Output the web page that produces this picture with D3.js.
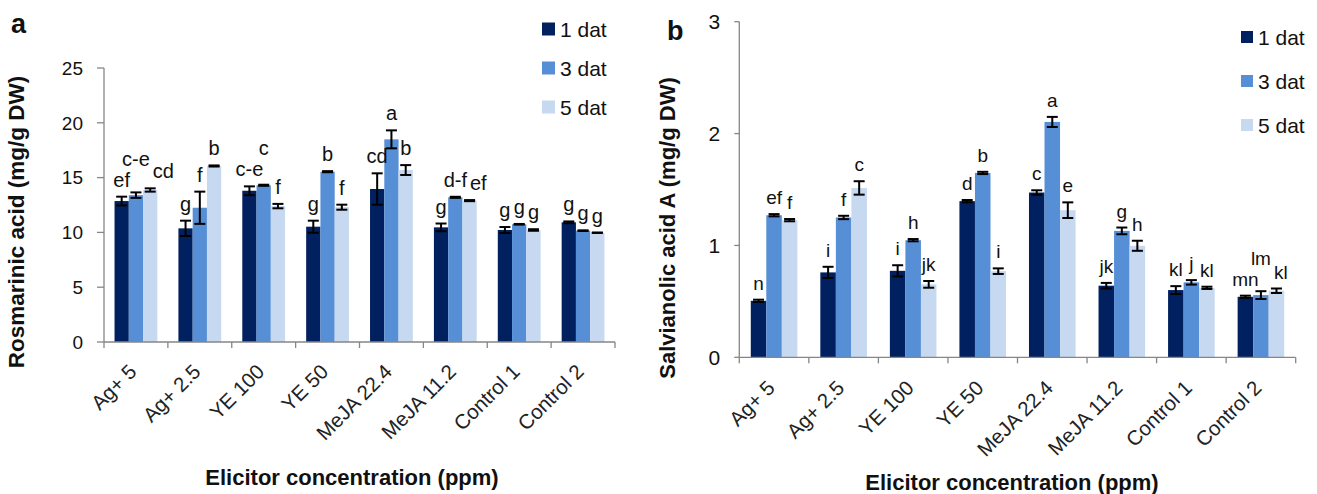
<!DOCTYPE html>
<html>
<head>
<meta charset="utf-8">
<script src="https://cdn.jsdelivr.net/npm/d3@7"></script>
<style>
  body { margin: 0; background: #fff; }
  text { font-family: "Liberation Sans", Arial, sans-serif; fill: #111; }
</style>
</head>
<body>
<div id="chart"></div>
<script>
var categories = ["Ag+ 5", "Ag+ 2.5", "YE 100", "YE 50", "MeJA 22.4", "MeJA 11.2", "Control 1", "Control 2"];
var series = ["1 dat", "3 dat", "5 dat"];
var colors = ["#00205f", "#568fd6", "#c6d9f0"];

// panel a: rosmarinic acid
var rosDay1 = [12.86, 10.37, 13.8, 10.52, 13.96, 10.46, 10.22, 10.92];
var rosDay3 = [13.4, 12.25, 14.3, 15.54, 18.49, 13.2, 10.74, 10.16];
var rosDay5 = [13.87, 16.06, 12.4, 12.3, 15.69, 12.9, 10.22, 9.97];
var rosErr1 = [0.4, 0.7, 0.4, 0.55, 1.43, 0.35, 0.27, 0.08];
var rosErr3 = [0.25, 1.47, 0.05, 0.05, 0.82, 0.05, 0.03, 0.03];
var rosErr5 = [0.15, 0.05, 0.2, 0.23, 0.45, 0.05, 0.07, 0.02];
var rosLet1 = ["ef", "g", "c-e", "g", "cd", "g", "g", "g"];
var rosLet3 = ["c-e", "f", "c", "b", "a", "d-f", "g", "g"];
var rosLet5 = ["cd", "b", "f", "f", "b", "ef", "g", "g"];
var rosTicks = [0, 5, 10, 15, 20, 25];

// panel b: salvianolic acid A
var salDay1 = [0.505, 0.759, 0.773, 1.396, 1.473, 0.64, 0.601, 0.541];
var salDay3 = [1.27, 1.25, 1.047, 1.648, 2.104, 1.13, 0.67, 0.556];
var salDay5 = [1.226, 1.514, 0.652, 0.77, 1.315, 0.997, 0.621, 0.595];
var salErr1 = [0.01, 0.05, 0.05, 0.01, 0.02, 0.025, 0.035, 0.01];
var salErr3 = [0.01, 0.015, 0.01, 0.01, 0.045, 0.03, 0.02, 0.035];
var salErr5 = [0.01, 0.06, 0.03, 0.025, 0.07, 0.045, 0.01, 0.02];
var salLet1 = ["n", "i", "i", "d", "c", "jk", "kl", "mn"];
var salLet3 = ["ef", "f", "h", "b", "a", "g", "j", "lm"];
var salLet5 = ["f", "c", "jk", "i", "e", "h", "kl", "kl"];
var salTicks = [0, 1, 2, 3];

var svg = d3.select("#chart").append("svg")
    .attr("width", 1317)
    .attr("height", 494);

function drawPanel(cfg) {
    var g = svg.append("g");
    var x = d3.scaleBand().domain(categories)
        .range([cfg.x0, cfg.x1]).paddingInner(0.33).paddingOuter(0.165);
    var xs = d3.scaleBand().domain(series).range([0, x.bandwidth()]);
    var y = d3.scaleLinear().domain([0, cfg.max]).range([cfg.y0, cfg.y1]);
    var step = x.step();

    var rows = categories.map(function (c, i) {
        return series.map(function (s, j) {
            return { cat: c, ser: s, j: j, v: cfg.values[j][i], e: cfg.errors[j][i], l: cfg.letters[j][i] };
        });
    });

    var groups = g.selectAll(".grp").data(rows).enter().append("g")
        .attr("transform", function (d, i) { return "translate(" + x(categories[i]) + ",0)"; });

    groups.selectAll("rect").data(function (d) { return d; }).enter().append("rect")
        .attr("x", function (d) { return xs(d.ser); })
        .attr("width", xs.bandwidth())
        .attr("y", function (d) { return y(d.v); })
        .attr("height", function (d) { return y(0) - y(d.v); })
        .attr("fill", function (d) { return colors[d.j]; });

    // error bars
    var eb = groups.selectAll(".err").data(function (d) { return d; }).enter().append("g")
        .attr("stroke", "#000").attr("stroke-width", 2);
    eb.append("line")
        .attr("x1", function (d) { return xs(d.ser) + xs.bandwidth() / 2; })
        .attr("x2", function (d) { return xs(d.ser) + xs.bandwidth() / 2; })
        .attr("y1", function (d) { return y(d.v - d.e); })
        .attr("y2", function (d) { return y(d.v + d.e); });
    [1, -1].forEach(function (sgn) {
        eb.append("line")
            .attr("x1", function (d) { return xs(d.ser) + xs.bandwidth() / 2 - 5.5; })
            .attr("x2", function (d) { return xs(d.ser) + xs.bandwidth() / 2 + 5.5; })
            .attr("y1", function (d) { return y(d.v + sgn * d.e); })
            .attr("y2", function (d) { return y(d.v + sgn * d.e); });
    });

    // significance letters, nudged when they collide
    var fs = cfg.letterSize;
    rows.forEach(function (row, i) {
        var prev = null;
        row.forEach(function (d) {
            var cx = x(d.cat) + xs(d.ser) + xs.bandwidth() / 2;
            var cy = y(d.v + d.e) - 10;
            var t = g.append("text").attr("text-anchor", "middle")
                .style("font-size", fs + "px").text(d.l);
            var w = t.node().getComputedTextLength();
            var box = { x0: cx - w / 2, x1: cx + w / 2, top: cy - 0.72 * fs, bot: cy + 0.2 * fs, y: cy };
            if (prev) {
                var ox = prev.x1 - box.x0;
                var oy = Math.min(prev.bot, box.bot) - Math.max(prev.top, box.top);
                if (ox > 1 && oy > 0) {
                    if (cy <= prev.y) {
                        cy = prev.y - 21;
                    } else {
                        cx += ox + 3;
                    }
                    box = { x0: cx - w / 2, x1: cx + w / 2, top: cy - 0.72 * fs, bot: cy + 0.2 * fs, y: cy };
                }
            }
            t.attr("x", cx).attr("y", cy);
            prev = box;
        });
    });

    // axes
    var axisColor = "#868686";
    g.append("line").attr("x1", cfg.x0).attr("x2", cfg.x0)
        .attr("y1", cfg.y0).attr("y2", cfg.y1)
        .attr("stroke", axisColor).attr("stroke-width", 1.3);
    g.append("line").attr("x1", cfg.x0).attr("x2", cfg.x1)
        .attr("y1", cfg.y0).attr("y2", cfg.y0)
        .attr("stroke", axisColor).attr("stroke-width", 1.3);

    var yt = g.selectAll(".yt").data(cfg.ticks).enter().append("g");
    yt.append("line").attr("x1", cfg.x0 - cfg.tickLen).attr("x2", cfg.x0)
        .attr("y1", function (d) { return y(d); }).attr("y2", function (d) { return y(d); })
        .attr("stroke", axisColor).attr("stroke-width", 1.3);
    yt.append("text").attr("x", cfg.x0 - cfg.labelGap)
        .attr("y", function (d) { return y(d); })
        .attr("dy", "0.36em")
        .attr("text-anchor", "end")
        .style("font-size", cfg.tickSize + "px")
        .text(function (d) { return d; });

    var bounds = categories.map(function (c) { return x(c) - (step - x.bandwidth()) / 2; });
    bounds.push(cfg.x1);
    g.selectAll(".xt").data(bounds).enter().append("line")
        .attr("x1", function (d) { return d; }).attr("x2", function (d) { return d; })
        .attr("y1", cfg.y0).attr("y2", cfg.y0 + 6)
        .attr("stroke", axisColor).attr("stroke-width", 1.3);

    g.selectAll(".xl").data(categories).enter().append("text")
        .attr("transform", function (d) {
            return "translate(" + (x(d) + x.bandwidth() / 2 + 2) + "," + (cfg.y0 + cfg.catDrop) + ") rotate(-45)";
        })
        .attr("text-anchor", "end")
        .style("font-size", "20.5px")
        .style("fill", "#222")
        .text(function (d) { return d; });

    // titles
    g.append("text").attr("x", cfg.xTitleX).attr("y", cfg.xTitleY)
        .attr("text-anchor", "middle")
        .style("font-size", "22px").style("font-weight", "bold")
        .text("Elicitor concentration (ppm)");
    g.append("text")
        .attr("transform", "translate(" + cfg.yTitleX + "," + cfg.yTitleY + ") rotate(-90)")
        .attr("text-anchor", "middle")
        .style("font-size", cfg.yTitleSize + "px").style("font-weight", "bold")
        .text(cfg.yTitle);
    g.append("text").attr("x", cfg.tagX).attr("y", cfg.tagY)
        .style("font-size", "27px").style("font-weight", "bold")
        .text(cfg.tag);

    // legend
    var lg = g.selectAll(".lg").data(series).enter().append("g")
        .attr("transform", function (d, i) { return "translate(" + cfg.legX + "," + (cfg.legY + i * cfg.legStep) + ")"; });
    lg.append("rect").attr("x", 0).attr("y", -cfg.legBox / 2)
        .attr("width", cfg.legBox).attr("height", cfg.legBox)
        .attr("fill", function (d, i) { return colors[i]; });
    lg.append("text").attr("x", cfg.legBox + 5).attr("dy", "0.36em")
        .style("font-size", "21px")
        .text(function (d) { return d; });
}

drawPanel({
    x0: 104, x1: 615, y0: 342, y1: 68, max: 25,
    values: [rosDay1, rosDay3, rosDay5],
    errors: [rosErr1, rosErr3, rosErr5],
    letters: [rosLet1, rosLet3, rosLet5],
    ticks: rosTicks, tickLen: 7, labelGap: 21, tickSize: 19,
    letterSize: 20, catDrop: 31,
    xTitleX: 352, xTitleY: 485,
    yTitle: "Rosmarinic acid (mg/g DW)", yTitleX: 24, yTitleY: 222, yTitleSize: 22.5,
    tag: "a", tagX: 11, tagY: 33,
    legX: 542, legY: 29, legStep: 39, legBox: 13
});

drawPanel({
    x0: 739.3, x1: 1295.7, y0: 357.3, y1: 21.7, max: 3,
    values: [salDay1, salDay3, salDay5],
    errors: [salErr1, salErr3, salErr5],
    letters: [salLet1, salLet3, salLet5],
    ticks: salTicks, tickLen: 5, labelGap: 19, tickSize: 21,
    letterSize: 19, catDrop: 32,
    xTitleX: 1012, xTitleY: 490,
    yTitle: "Salvianolic acid A (mg/g DW)", yTitleX: 675, yTitleY: 228, yTitleSize: 22,
    tag: "b", tagX: 667, tagY: 40,
    legX: 1241, legY: 37, legStep: 44, legBox: 12
});
</script>
</body>
</html>
